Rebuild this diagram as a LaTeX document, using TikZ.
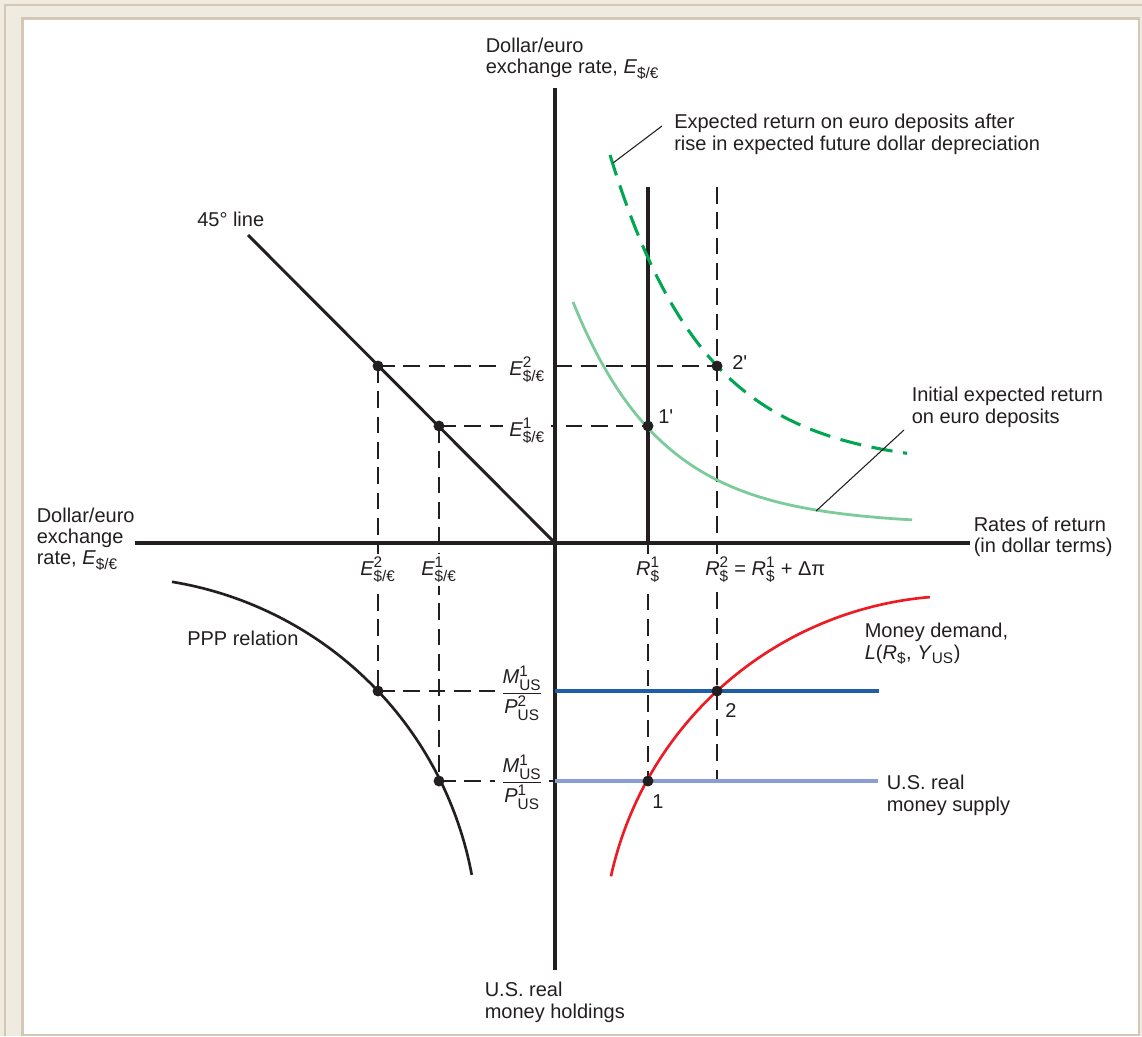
\documentclass[tikz,border=0pt]{standalone}
\usepackage{fontspec}
\usepackage{amsmath}
\setmainfont{Liberation Sans}
\DeclareMathSizes{15}{15}{11.5}{9}
\definecolor{framebg}{HTML}{F0EBE1}
\definecolor{frameline}{HTML}{D3C8B5}
\definecolor{txt}{HTML}{231F20}
\definecolor{lgreen}{HTML}{7CCB9B}
\definecolor{dgreen}{HTML}{00A651}
\definecolor{mdred}{HTML}{ED1C24}
\definecolor{dblue}{HTML}{1F5EA8}
\definecolor{lblue}{HTML}{8C9DD2}
\newcommand{\myE}[1]{$\textit{E}^{\text{#1}}_{\text{\$/€}}$}
\newcommand{\myR}[1]{$\textit{R}^{\text{#1}}_{\text{\$}}$}
\newcommand{\myMP}[1]{$\dfrac{\textit{M}^{\text{1}}_{\text{US}}}{\textit{P}^{\text{#1}}_{\text{US}}}$}
\tikzset{
  axisline/.style={line width=2.3pt, draw=txt},
  guide/.style={line width=1.15pt, draw=txt, dash pattern=on 12.5pt off 6.5pt},
  dotnode/.style={circle, fill=txt, inner sep=0pt, minimum size=8.2pt},
  lbl/.style={anchor=north west, align=left, inner sep=0pt, text=txt},
  mlbl/.style={fill=white, inner xsep=4.5pt, inner ysep=2pt, text=txt},
  annot/.style={line width=0.8pt, draw=txt},
  ptlbl/.style={anchor=base west, inner sep=0pt, text=txt}
}
\begin{document}
\begin{tikzpicture}[x=0.75pt, y=-0.75pt, font=\fontsize{15}{16}\selectfont]
\useasboundingbox (0,0) rectangle (1142,1036);
% frame
\fill[framebg] (0,0) rectangle (1142,1036);
\draw[frameline, line width=1.5pt] (5,1036) -- (5,5) -- (1142,5);
\fill[white] (22.5,18.5) rectangle (1139,1035);
\draw[frameline, line width=2.2pt] (22.5,18.5) rectangle (1139,1035);

% coordinates
\coordinate (O) at (555,543);
\coordinate (Atop) at (555,88);
\coordinate (Abot) at (555,970);
\coordinate (Aleft) at (135,543);
\coordinate (Aright) at (970,543);
\coordinate (L45) at (248,235);
\coordinate (A2) at (378,366);
\coordinate (A1) at (439,426);
\coordinate (B1) at (648,426);
\coordinate (B2) at (717,366);
\coordinate (C2) at (378,691);
\coordinate (C1) at (439,781);
\coordinate (D1) at (648,781);
\coordinate (D2) at (717,691);
\coordinate (R1top) at (648,187);
\coordinate (R2top) at (717,187);
\coordinate (R1ax) at (648,543);
\coordinate (R2bot) at (717,781);
\coordinate (Y2) at (555,691);
\coordinate (Y1) at (555,781);
\coordinate (S2end) at (879,691);
\coordinate (S1end) at (878,781);

% guides
\draw[guide] (A2) -- (B2);
\draw[guide] (A1) -- (B1);
\draw[guide] (A2) -- (C2);
\draw[guide] (A1) -- (C1);
\draw[guide] (R2top) -- (R2bot);
\draw[guide] (R1ax) -- (D1);
\draw[guide] (C2) -- (Y2);
\draw[guide] (C1) -- (Y1);

% axis value labels
\node[mlbl, anchor=base east] (e2l) at (551,375) {\myE{2}};
\node[mlbl, anchor=base east] (e1l) at (551,436) {\myE{1}};
\node[mlbl, anchor=base] (e2b) at (378,575) {\myE{2}};
\node[mlbl, anchor=base] (e1b) at (439,575) {\myE{1}};
\node[mlbl, anchor=base] (r1b) at (648,575) {\myR{1}};
\node[mlbl, anchor=base west] (r2b) at (699,575) {\myR{2} = \myR{1} + Δπ};
\node[mlbl] (mp2) at (522,693) {\myMP{2}};
\node[mlbl] (mp1) at (522,782) {\myMP{1}};

% axes
\draw[axisline] (Aleft) -- (Aright);
\draw[axisline] (Atop) -- (Abot);
\draw[line width=2.2pt, draw=txt] (L45) -- (O);
\draw[line width=2.3pt, draw=txt] (R1top) -- (R1ax);

% money supply lines
\draw[dblue, line width=2.3pt] (Y2) -- (S2end);
\draw[lblue, line width=2.3pt] (Y1) -- (S1end);

% curves
\draw[txt, line width=2pt] plot[domain=80.7:10.6, samples=70] ({113+365*cos(\x)},{942-365*sin(\x)});
\draw[mdred, line width=2pt] plot[domain=167.6:94.8, samples=70] ({959.8+357.2*cos(\x)},{953-357.2*sin(\x)});
\draw[lgreen, line width=2.1pt] plot[domain=573:912, samples=80] (\x,{525-223*exp(-(\x-573)/90)});
\draw[dgreen, line width=2.3pt, dash pattern=on 16pt off 8pt] plot[domain=610:907, samples=80] (\x,{467-312*exp(-(\x-610)/95)});

% text labels
\node[lbl] (ttop) at (485.5,37.5) {Dollar/euro\\exchange rate, \textit{E}\textsubscript{\$/€}};
\node[lbl] (tleft) at (36.5,507.5) {Dollar/euro\\exchange\\rate, \textit{E}\textsubscript{\$/€}};
\node[lbl] (tright) at (973.5,516.5) {Rates of return\\(in dollar terms)};
\node[lbl] (tbot) at (484.5,982) {U.S. real\\money holdings};
\node[lbl] (t45) at (197,212) {45° line};
\node[lbl] (tppp) at (187,631) {PPP relation};
\node[lbl] (tmd) at (864.5,623) {Money demand,\\\textit{L}(\textit{R}\textsubscript{\$}, \textit{Y}\textsubscript{US})};
\node[lbl] (tms) at (886.5,775) {U.S. real\\money supply};
\node[lbl] (tnew) at (674,114) {Expected return on euro deposits after\\rise in expected future dollar depreciation};
\node[lbl] (tinit) at (911.5,387) {Initial expected return\\on euro deposits};

% annotation lines
\coordinate (annA) at (613,163);
\coordinate (annAend) at (662,126);
\coordinate (annB) at (816,511);
\coordinate (annBend) at (904,430);
\draw[annot] (annA) -- (annAend);
\draw[annot] (annB) -- (annBend);

% dots
\foreach \p in {A2,A1,B1,B2,C2,C1,D1,D2} \node[dotnode] (dot\p) at (\p) {};

% point labels
\node[ptlbl] (l1p) at (658,423) {1\textquotesingle};
\node[ptlbl] (l2p) at (732,369) {2\textquotesingle};
\node[ptlbl] (l2) at (725,717) {2};
\node[ptlbl] (l1) at (652,808) {1};
\end{tikzpicture}
\end{document}
